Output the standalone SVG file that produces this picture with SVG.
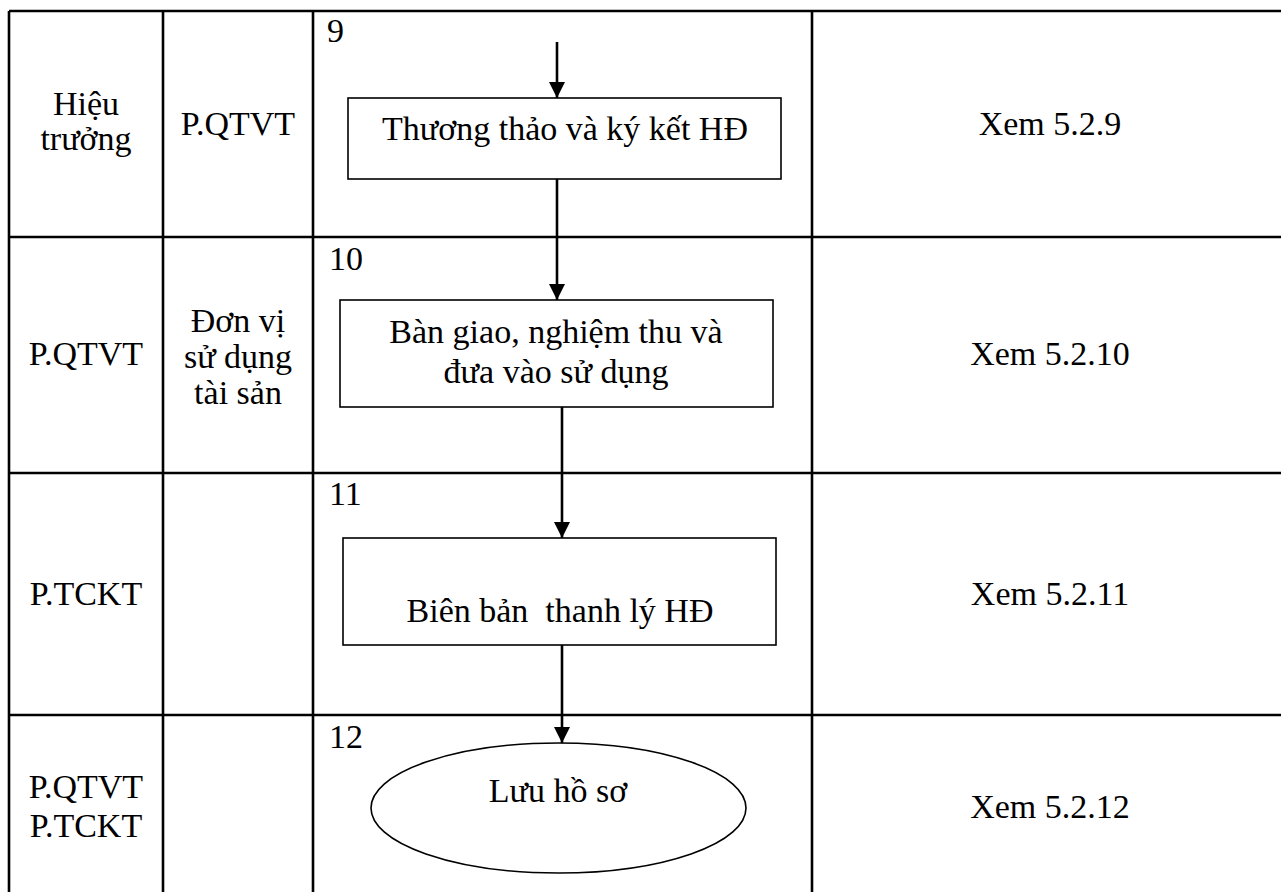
<svg xmlns="http://www.w3.org/2000/svg" width="1281" height="892" viewBox="0 0 1281 892">
<style>
text{font-family:"Liberation Serif","Times New Roman",serif;font-size:34px;fill:#000}
.c{text-anchor:middle}
.grid{stroke:#000;stroke-width:2.6;fill:none}
.box{stroke:#000;stroke-width:1.6;fill:#fff}
.arr{stroke:#000;stroke-width:2.6;fill:none}
</style>
<defs>
<marker id="ah" markerUnits="userSpaceOnUse" markerWidth="16" markerHeight="16" viewBox="0 0 16 16" refX="16" refY="8" orient="auto">
<path d="M0,0 L16,8 L0,16 z" fill="#000"/>
</marker>
</defs>
<rect width="1281" height="892" fill="#fff"/>
<g id="table" class="grid">
<line x1="9" y1="11" x2="1281" y2="11"/>
<line x1="9" y1="237" x2="1281" y2="237"/>
<line x1="9" y1="473" x2="1281" y2="473"/>
<line x1="9" y1="715" x2="1281" y2="715"/>
<line x1="9" y1="11" x2="9" y2="892"/>
<line x1="163" y1="11" x2="163" y2="892"/>
<line x1="313" y1="11" x2="313" y2="892"/>
<line x1="812" y1="11" x2="812" y2="892"/>
</g>
<g id="labels">
<text class="c" x="86" y="115">Hiệu</text>
<text class="c" x="86" y="150">trưởng</text>
<text class="c" x="238" y="135">P.QTVT</text>
<text class="c" x="86" y="365">P.QTVT</text>
<text class="c" x="238" y="332">Đơn vị</text>
<text class="c" x="238" y="368">sử dụng</text>
<text class="c" x="238" y="404">tài sản</text>
<text class="c" x="86" y="605">P.TCKT</text>
<text class="c" x="86" y="798">P.QTVT</text>
<text class="c" x="86" y="837">P.TCKT</text>
<text x="327" y="42">9</text>
<text x="329" y="270">10</text>
<text x="329" y="505">11</text>
<text x="329" y="748">12</text>
<text class="c" x="1050" y="135">Xem 5.2.9</text>
<text class="c" x="1050" y="365">Xem 5.2.10</text>
<text class="c" x="1050" y="605">Xem 5.2.11</text>
<text class="c" x="1050" y="818">Xem 5.2.12</text>
</g>
<g id="connectors" class="arr">
<line x1="557" y1="42" x2="557" y2="98" marker-end="url(#ah)"/>
<line x1="557" y1="179" x2="557" y2="300" marker-end="url(#ah)"/>
<line x1="562" y1="407" x2="562" y2="538" marker-end="url(#ah)"/>
<line x1="562" y1="645" x2="562" y2="743" marker-end="url(#ah)"/>
</g>
<g id="n9">
<rect class="box" x="348" y="98" width="433" height="81"/>
<text class="c" x="565" y="140">Thương thảo và ký kết HĐ</text>
</g>
<g id="n10">
<rect class="box" x="340" y="300" width="433" height="107"/>
<text class="c" x="556" y="343">Bàn giao, nghiệm thu và</text>
<text class="c" x="556" y="383">đưa vào sử dụng</text>
</g>
<g id="n11">
<rect class="box" x="343" y="538" width="433" height="107"/>
<text class="c" x="560" y="622" xml:space="preserve">Biên bản  thanh lý HĐ</text>
</g>
<g id="n12">
<ellipse class="box" cx="558.5" cy="808" rx="187.5" ry="65"/>
<text class="c" x="558" y="802">Lưu hồ sơ</text>
</g>
</svg>
